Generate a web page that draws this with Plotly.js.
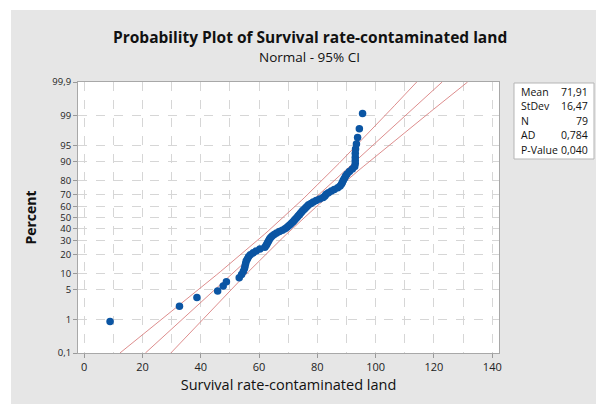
<!DOCTYPE html>
<html>
<head>
<meta charset="utf-8">
<script src="https://cdn.plot.ly/plotly-3.0.1.min.js"></script>
<style>html,body{margin:0;padding:0;background:#fff;}#chart{width:596px;height:404px;}</style>
</head>
<body>
<div id="chart"></div>
<script>
const survivalRate = [
  8.9, 32.7, 38.7, 45.8, 47.7, 48.8,
  53.2, 54.0, 54.6, 55.0, 55.2, 55.4, 55.6, 56.0, 56.4, 57.0,
  58.0, 59.0, 60.3, 62.0, 62.4, 62.7, 63.0, 63.3, 63.6, 64.0,
  64.5, 65.2, 66.0, 67.0, 68.0, 68.9, 69.6, 70.2, 70.7, 71.2,
  71.7, 72.1, 72.5, 73.0, 73.4, 73.8, 74.2, 74.6, 75.0, 75.5,
  76.0, 76.5, 77.0, 77.8, 78.6, 79.6, 80.8, 82.0, 82.6, 83.0,
  83.8, 84.8, 85.8, 87.0, 87.8, 88.3, 88.6, 88.9, 89.3, 89.7,
  90.2, 91.0, 92.0, 92.8, 93.0, 93.0, 93.0, 93.0, 93.1, 93.4,
  93.8, 94.4, 95.5
];
const fitMean = 71.91;
const fitStDev = 16.47;
const fitN = 79;
const statLabels = ["Mean", "StDev", "N", "AD", "P-Value"];
const statValues = ["71,91", "16,47", "79", "0,784", "0,040"];
const percentTicks = [0.1, 1, 5, 10, 20, 30, 40, 50, 60, 70, 80, 90, 95, 99, 99.9];
const percentTickText = ["0,1", "1", "5", "10", "20", "30", "40", "50", "60", "70", "80", "90", "95", "99", "99,9"];
const xTicks = [0, 20, 40, 60, 80, 100, 120, 140];

// inverse standard normal (Acklam)
function invNorm(p) {
  const a = [-3.969683028665376e+01, 2.209460984245205e+02, -2.759285104469687e+02, 1.383577518672690e+02, -3.066479806614716e+01, 2.506628277459239e+00];
  const b = [-5.447609879822406e+01, 1.615858368580409e+02, -1.556989798598866e+02, 6.680131188771972e+01, -1.328068155288572e+01];
  const c = [-7.784894002430293e-03, -3.223964580411365e-01, -2.400758277161838e+00, -2.549732539343734e+00, 4.374664141464968e+00, 2.938163982698783e+00];
  const d = [7.784695709041462e-03, 3.224671290700398e-01, 2.445134137142996e+00, 3.754408661907416e+00];
  const pl = 0.02425, ph = 1 - pl;
  let q, r;
  if (p < pl) {
    q = Math.sqrt(-2 * Math.log(p));
    return (((((c[0]*q+c[1])*q+c[2])*q+c[3])*q+c[4])*q+c[5]) / ((((d[0]*q+d[1])*q+d[2])*q+d[3])*q+1);
  } else if (p <= ph) {
    q = p - 0.5; r = q*q;
    return (((((a[0]*r+a[1])*r+a[2])*r+a[3])*r+a[4])*r+a[5])*q / (((((b[0]*r+b[1])*r+b[2])*r+b[3])*r+b[4])*r+1);
  } else {
    q = Math.sqrt(-2 * Math.log(1 - p));
    return -(((((c[0]*q+c[1])*q+c[2])*q+c[3])*q+c[4])*q+c[5]) / ((((d[0]*q+d[1])*q+d[2])*q+d[3])*q+1);
  }
}

const n = survivalRate.length;
const ptZ = survivalRate.map((v, i) => invNorm((i + 1 - 0.3) / (n + 0.4)));
const zMin = invNorm(0.001), zMax = invNorm(0.999);

// fitted line and 95% CI
const zLine = [], xFit = [], xLo = [], xHi = [];
for (let k = 0; k <= 80; k++) {
  const z = zMin + (zMax - zMin) * k / 80;
  const se = fitStDev * Math.sqrt(1 / fitN + z * z / (2 * fitN));
  zLine.push(z);
  xFit.push(fitMean + z * fitStDev);
  xLo.push(fitMean + z * fitStDev - 1.96 * se);
  xHi.push(fitMean + z * fitStDev + 1.96 * se);
}

const red = '#d98080';
const traces = [
  {x: xLo, y: zLine, mode: 'lines', line: {color: red, width: 0.9}, hoverinfo: 'skip'},
  {x: xFit, y: zLine, mode: 'lines', line: {color: red, width: 0.9}, hoverinfo: 'skip'},
  {x: xHi, y: zLine, mode: 'lines', line: {color: red, width: 0.9}, hoverinfo: 'skip'},
  {x: survivalRate, y: ptZ, mode: 'markers', marker: {color: '#0b55a3', size: 7.5}}
];

// geometry helpers (plot area in px)
const L = 78, R = 499, T = 82, B = 353;
const px = v => (v - L) / (R - L);
const py = v => (B - v) / (B - T);

const FONT = 'Open Sans, Noto Sans, sans-serif';
const annotations = [
  {text: '<b>Probability Plot of Survival rate-contaminated land</b>', x: px(310), y: py(37), xref: 'paper', yref: 'paper', showarrow: false, xanchor: 'center', yanchor: 'middle', font: {size: 15.5, color: '#111', family: FONT}},
  {text: 'Normal - 95% CI', x: px(309), y: py(57), xref: 'paper', yref: 'paper', showarrow: false, xanchor: 'center', yanchor: 'middle', font: {size: 13.5, color: '#111', family: FONT}}
];
statLabels.forEach((lab, i) => {
  const yy = 92 + i * 14.4;
  annotations.push({text: lab, x: px(519), y: py(yy), xref: 'paper', yref: 'paper', showarrow: false, xanchor: 'left', yanchor: 'middle', font: {size: 10.5, color: '#111', family: FONT}});
  annotations.push({text: statValues[i], x: px(590), y: py(yy), xref: 'paper', yref: 'paper', showarrow: false, xanchor: 'right', yanchor: 'middle', font: {size: 10.5, color: '#111', family: FONT}});
});

const layout = {
  width: 596, height: 404,
  paper_bgcolor: '#e6e6e6', plot_bgcolor: '#ffffff',
  margin: {l: L, r: 596 - R, t: T, b: 404 - B, pad: 0},
  showlegend: false,
  font: {family: FONT, color: '#222'},
  xaxis: {
    range: [-2.1, 142.3], tickvals: xTicks, ticktext: xTicks.map(String),
    ticks: 'outside', ticklen: 4, tickcolor: '#999', tickfont: {size: 11, color: '#222'},
    showgrid: true, gridcolor: '#d6d6d6', griddash: 'dash', gridwidth: 1,
    minor: {dtick: 10, tick0: 0, showgrid: true, gridcolor: '#d6d6d6', griddash: 'dash', gridwidth: 1},
    showline: true, linecolor: '#a8a8a8', linewidth: 1, mirror: true, zeroline: false,
    title: {text: 'Survival rate-contaminated land', font: {size: 14.5, color: '#111', family: FONT}, standoff: 6}
  },
  yaxis: {
    range: [zMin, zMax], tickvals: percentTicks.map(p => invNorm(p / 100)), ticktext: percentTickText,
    ticks: 'outside', ticklen: 4, tickcolor: '#999', tickfont: {size: 9.5, color: '#222'},
    showgrid: true, gridcolor: '#d6d6d6', griddash: 'dash', gridwidth: 1,
    showline: true, linecolor: '#a8a8a8', linewidth: 1, mirror: true, zeroline: false,
    title: {text: '<b>Percent</b>', font: {size: 14, color: '#111', family: FONT}, standoff: 12}
  },
  shapes: [
    {type: 'rect', xref: 'paper', yref: 'paper', x0: px(0), x1: px(596), y0: py(0), y1: py(10), fillcolor: '#ffffff', line: {width: 0}, layer: 'below'},
    {type: 'rect', xref: 'paper', yref: 'paper', x0: px(0), x1: px(11), y0: py(0), y1: py(404), fillcolor: '#ffffff', line: {width: 0}, layer: 'below'},
    {type: 'rect', xref: 'paper', yref: 'paper', x0: px(514), x1: px(594), y0: py(83), y1: py(159), fillcolor: '#ffffff', line: {color: '#b5b5b5', width: 1}}
  ],
  annotations: annotations
};

Plotly.newPlot('chart', traces, layout, {displayModeBar: false, staticPlot: true});
</script>
</body>
</html>
